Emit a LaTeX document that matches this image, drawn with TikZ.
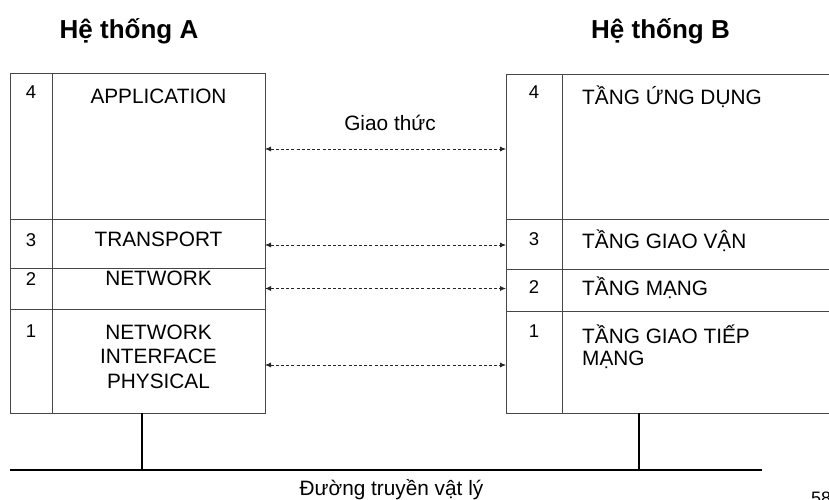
\documentclass[tikz,border=0pt]{standalone}
\usepackage{fontspec}
\setmainfont{Liberation Sans}
\usetikzlibrary{arrows.meta}
\tikzset{
  cell/.style={draw=black!72, line width=0.9pt, rectangle, inner sep=0pt, outer sep=0pt, anchor=north west},
  numtxt/.style={inner sep=0pt, anchor=base, font=\fontsize{18.5}{21}\selectfont},
  laytxt/.style={inner sep=0pt, anchor=base, font=\fontsize{20.8}{24}\selectfont},
  laytxtl/.style={inner sep=0pt, anchor=base west, font=\fontsize{20.8}{24}\selectfont},
  titletxt/.style={inner sep=0pt, anchor=base, font=\bfseries\fontsize{26}{30}\selectfont},
  proto/.style={dashed, dash pattern=on 3pt off 2.2pt, line width=0.8pt, black!85, {Latex[length=6pt,width=5pt]}-{Latex[length=6pt,width=5pt]}},
  busline/.style={line width=1.7pt, black}
}
\begin{document}
\begin{tikzpicture}[x=1pt,y=-1pt]
\useasboundingbox (0,0) rectangle (829,500);
% titles
\node[titletxt] (tA) at (129,39) {Hệ thống A};
\node[titletxt] (tB) at (660.5,39) {Hệ thống B};
% system A cells
\node[cell, minimum width=42pt, minimum height=146pt] (nA4) at (10,73) {};
\node[cell, minimum width=213pt, minimum height=146pt] (A4) at (52,73) {};
\node[cell, minimum width=42pt, minimum height=49pt] (nA3) at (10,219) {};
\node[cell, minimum width=213pt, minimum height=49pt] (A3) at (52,219) {};
\node[cell, minimum width=42pt, minimum height=41pt] (nA2) at (10,268) {};
\node[cell, minimum width=213pt, minimum height=41pt] (A2) at (52,268) {};
\node[cell, minimum width=42pt, minimum height=104pt] (nA1) at (10,309) {};
\node[cell, minimum width=213pt, minimum height=104pt] (A1) at (52,309) {};
% system B cells (open to the right edge)
\node[cell, minimum width=56pt, minimum height=145pt] (nB4) at (506,74) {};
\node[cell, minimum width=300pt, minimum height=145pt] (B4) at (562,74) {};
\node[cell, minimum width=56pt, minimum height=50pt] (nB3) at (506,219) {};
\node[cell, minimum width=300pt, minimum height=50pt] (B3) at (562,219) {};
\node[cell, minimum width=56pt, minimum height=42pt] (nB2) at (506,269) {};
\node[cell, minimum width=300pt, minimum height=42pt] (B2) at (562,269) {};
\node[cell, minimum width=56pt, minimum height=102pt] (nB1) at (506,311) {};
\node[cell, minimum width=300pt, minimum height=102pt] (B1) at (562,311) {};
% numbers
\node[numtxt] (kA4) at (31,99) {4};
\node[numtxt] (kA3) at (31,246) {3};
\node[numtxt] (kA2) at (31,285) {2};
\node[numtxt] (kA1) at (31,337) {1};
\node[numtxt] (kB4) at (534,99) {4};
\node[numtxt] (kB3) at (534,245) {3};
\node[numtxt] (kB2) at (534,293) {2};
\node[numtxt] (kB1) at (534,337) {1};
% labels A
\node[laytxt] (lA4) at (158.5,103) {APPLICATION};
\node[laytxt] (lA3) at (158.5,246) {TRANSPORT};
\node[laytxt] (lA2) at (158.5,285) {NETWORK};
\node[laytxt] (lA1a) at (158.5,339) {NETWORK};
\node[laytxt] (lA1b) at (158.5,363.5) {INTERFACE};
\node[laytxt] (lA1c) at (158.5,388) {PHYSICAL};
% labels B
\node[laytxtl] (lB4) at (582,105) {TẦNG ỨNG DỤNG};
\node[laytxtl] (lB3) at (582,248) {TẦNG GIAO VẬN};
\node[laytxtl] (lB2) at (582,295) {TẦNG MẠNG};
\node[laytxtl] (lB1a) at (582,343) {TẦNG GIAO TIẾP};
\node[laytxtl] (lB1b) at (582,365) {MẠNG};
% protocol arrows
\node[laytxt] (proto) at (390,130) {Giao thức};
\draw[proto] ([yshift=-3pt]A4.east) -- ([yshift=-3pt]A4.east -| nB4.west);
\draw[proto] ([yshift=-1.5pt]A3.east) -- ([yshift=-1.5pt]A3.east -| nB3.west);
\draw[proto] (A2.east) -- (A2.east -| nB2.west);
\draw[proto] ([yshift=-4pt]A1.east) -- ([yshift=-4pt]A1.east -| nB1.west);
% physical medium
\coordinate (busL) at (10,470);
\coordinate (busR) at (762,470);
\coordinate (tapA) at (142,470);
\coordinate (tapB) at (639,470);
\draw[busline] (busL) -- (busR);
\draw[busline] (A1.south -| tapA) -- (tapA);
\draw[busline] (B1.south -| tapB) -- (tapB);
\node[laytxt] (medium) at (391.5,495) {Đường truyền vật lý};
\node[inner sep=0pt, anchor=base west, font=\fontsize{18}{20}\selectfont] (pg) at (811,504) {58};
\end{tikzpicture}
\end{document}
